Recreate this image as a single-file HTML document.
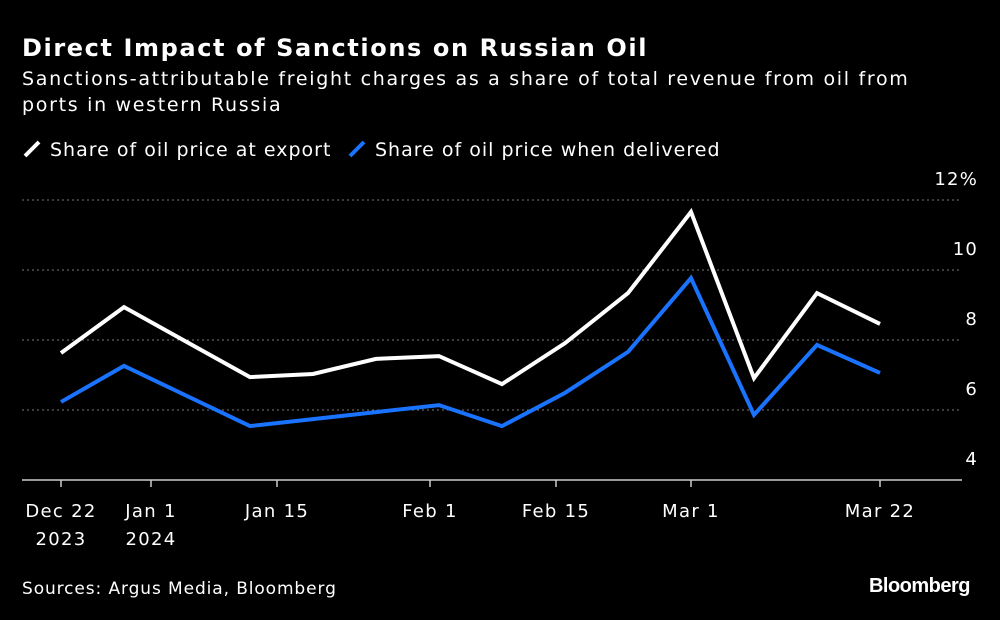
<!DOCTYPE html>
<html><head><meta charset="utf-8"><style>
body{margin:0;background:#000;}
svg{display:block;font-family:"DejaVu Sans","Liberation Sans",sans-serif;}
</style></head><body>
<svg width="1000" height="620" viewBox="0 0 1000 620">
<rect width="1000" height="620" fill="#000"/>
<text x="22" y="56" fill="#fff" font-size="24" font-weight="bold" letter-spacing="1.6">Direct Impact of Sanctions on Russian Oil</text>
<text x="22" y="85" fill="#fff" font-size="19" letter-spacing="1.7">Sanctions-attributable freight charges as a share of total revenue from oil from</text>
<text x="22" y="111" fill="#fff" font-size="19" letter-spacing="1.7">ports in western Russia</text>
<g>
<line x1="25" y1="156" x2="39" y2="142" stroke="#fff" stroke-width="4"/>
<text x="50" y="156" fill="#fff" font-size="19" letter-spacing="1">Share of oil price at export</text>
<line x1="350" y1="156" x2="364" y2="142" stroke="#1a73ff" stroke-width="4"/>
<text x="375" y="156" fill="#fff" font-size="19" letter-spacing="1">Share of oil price when delivered</text>
</g>
<g id="grid"></g>
<g id="xaxis"></g>
<g id="series"></g>
<text x="22" y="594" fill="#fff" font-size="17" letter-spacing="0.9">Sources: Argus Media, Bloomberg</text>
<text x="970" y="592" fill="#fff" font-size="20" font-weight="bold" text-anchor="end" font-family="Liberation Sans, sans-serif" letter-spacing="-0.5">Bloomberg</text>
</svg>
<script>
const dayOffsets=[0,7,14,21,28,35,42,49,56,63,70,77,84,91];
const exportShare=[7.63,8.94,7.94,6.94,7.03,7.46,7.54,6.74,7.91,9.34,11.66,6.91,9.34,8.46];
const deliveredShare=[6.23,7.26,6.4,5.54,5.74,5.94,6.14,5.54,6.49,7.66,9.77,5.86,7.86,7.06];
const yTicks=[4,6,8,10,12];
const yTickLabels=["4","6","8","10","12%"];
const xTickDays=[0,10,24,41,55,70,91];
const xTickLabels=[["Dec 22","2023"],["Jan 1","2024"],["Jan 15"],["Feb 1"],["Feb 15"],["Mar 1"],["Mar 22"]];
const NS="http://www.w3.org/2000/svg";
const x=d=>61+d*9;
const y=v=>480-(v-4)*35;
function mk(t,a,p){const e=document.createElementNS(NS,t);for(const k in a)e.setAttribute(k,a[k]);p.appendChild(e);return e;}
const grid=document.getElementById('grid');
yTicks.forEach((t,i)=>{
  if(t>4){const l=mk('line',{x1:22,x2:962,y1:y(t),y2:y(t),stroke:'#777','stroke-width':1,'stroke-dasharray':'2,3'},grid);
  
  }
  const tx=mk('text',{x:978,y:y(t)-15,fill:'#fff','font-size':18,'text-anchor':'end','letter-spacing':1.2},grid);
  tx.textContent=yTickLabels[i];
  
  
});
const xa=document.getElementById('xaxis');
const base=mk('line',{x1:22,x2:962,y1:480,y2:480,stroke:'#ccc','stroke-width':1.5},xa);


xTickDays.forEach((d,i)=>{
  const tk=mk('line',{x1:x(d),x2:x(d),y1:480,y2:487,stroke:'#ccc','stroke-width':1.5},xa);
  
  
  xTickLabels[i].forEach((s,j)=>{
    const tx=mk('text',{x:x(d),y:517+j*28,fill:'#fff','font-size':18,'text-anchor':'middle','letter-spacing':1.3},xa);
    tx.textContent=s;
    
    
  });
});
const sg=document.getElementById('series');
[[exportShare,'#fff','export-line'],[deliveredShare,'#1a73ff','delivered-line']].forEach(([vals,c,n])=>{
  const p=mk('polyline',{points:vals.map((v,i)=>x(dayOffsets[i])+','+y(v)).join(' '),fill:'none',stroke:c,'stroke-width':4,'stroke-linejoin':'miter'},sg);
  
  
});
</script>
</body></html>
